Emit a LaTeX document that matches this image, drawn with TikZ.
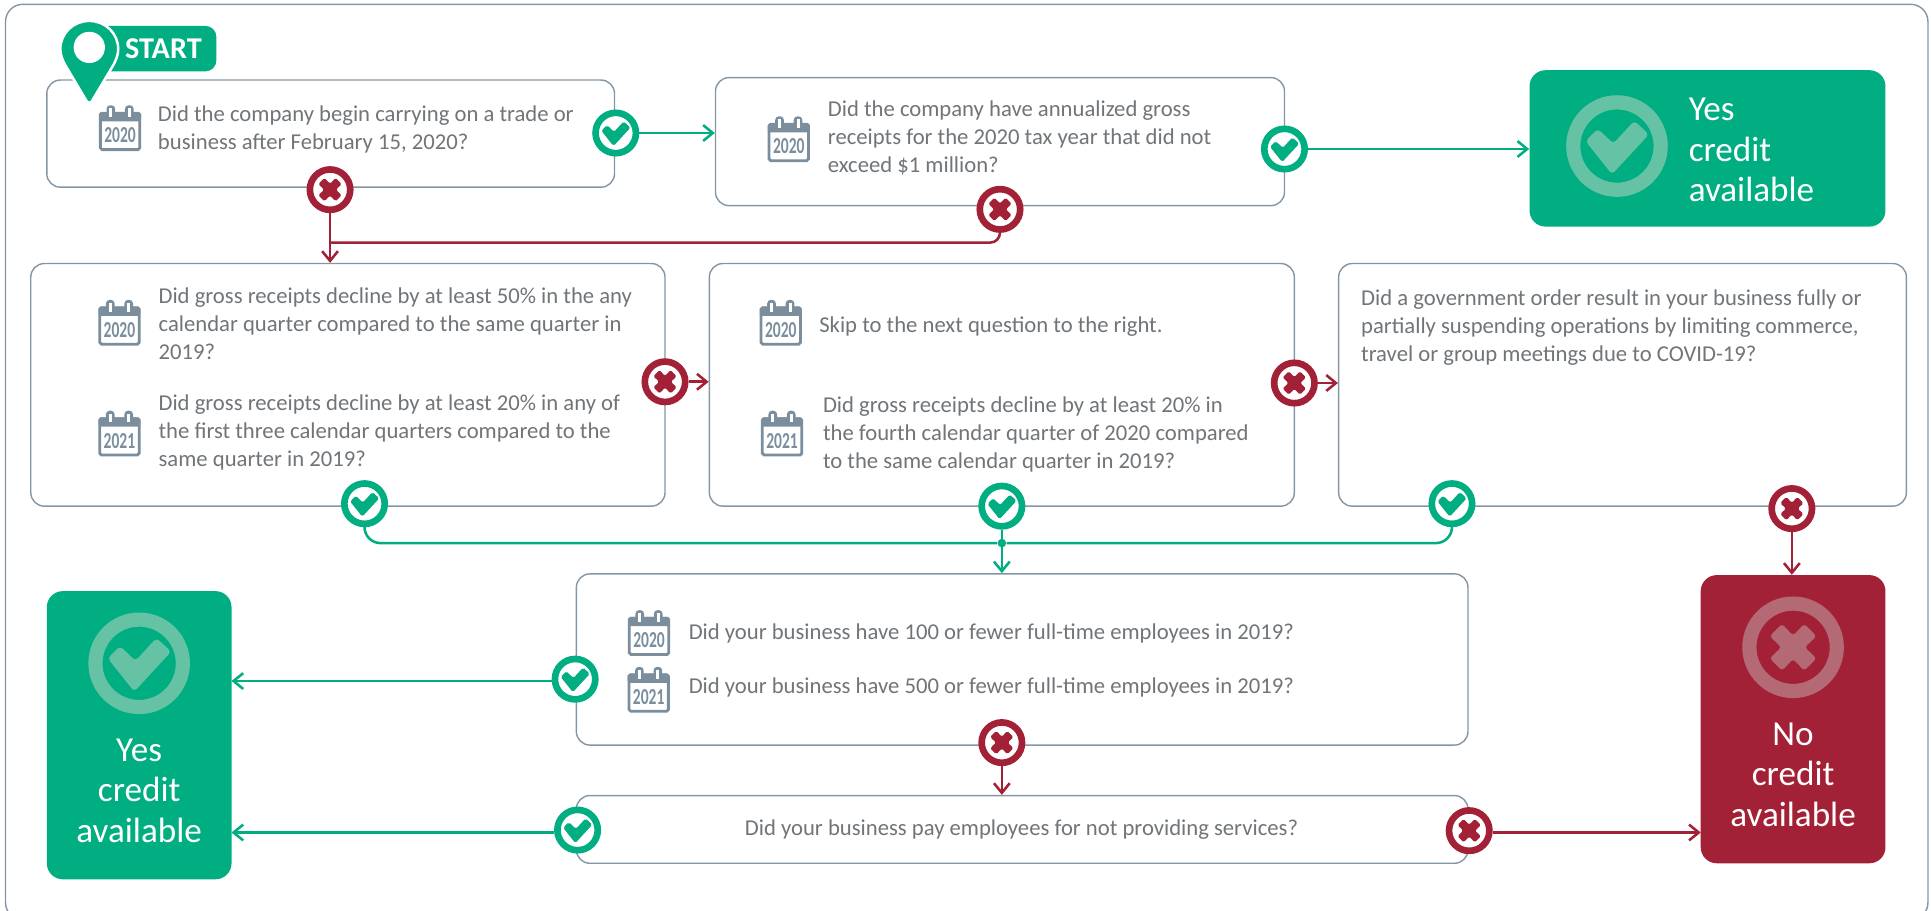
\documentclass[tikz,border=0pt]{standalone}
\usepackage{fontspec}
\usepackage{graphicx}
\setmainfont{Carlito}
\usetikzlibrary{arrows.meta}

\newcommand{\px}{0.02463cm}
\definecolor{okgreen}{HTML}{00AE82}
\definecolor{nored}{HTML}{A32136}
\definecolor{okring}{HTML}{66C2A5}
\definecolor{noring}{HTML}{B36A75}
\definecolor{edgegray}{HTML}{8496A5}
\definecolor{calgray}{HTML}{7A8E9D}
\definecolor{textgray}{HTML}{707579}

\newcommand{\tickshape}[2]{\fill[shift={(path picture bounding box.center)}, x=#1*\px, y=-#1*\px, #2, rounded corners=#1*3*\px] (-25.5,-4) -- (-15.5,-14) -- (-3,-2) -- (14,-20.5) -- (26,-9.5) -- (-4,23) -- cycle;}
\newcommand{\crossshape}[2]{\fill[shift={(path picture bounding box.center)}, x=#1*\px, y=-#1*\px, #2, rounded corners=#1*2.5*\px] (0,-9.5) -- (9,-19) -- (19,-9) -- (9.5,0) -- (19,9) -- (9,19) -- (0,9.5) -- (-9,19) -- (-19,9) -- (-9.5,0) -- (-19,-9) -- (-9,-19) -- cycle;}

\tikzset{
    qbox/.style={draw=edgegray, line width=.8pt, rounded corners=11*\px, fill=white, inner sep=0pt},
    qtext/.style={text=textgray, anchor=west, align=left, inner sep=0pt, font=\fontsize{12.9}{15.9}\selectfont},
    result/.style={rounded corners=13*\px, inner sep=0pt},
    restext/.style={text=white, inner sep=0pt, font=\fontsize{20}{23}\selectfont},
    yesmark/.style={circle, draw=okgreen, fill=white, line width=5.4*\px, minimum size=32.8*\px, inner sep=0pt, path picture={\tickshape{.46}{okgreen}}},
    nomark/.style={circle, draw=nored, fill=white, line width=5.4*\px, minimum size=32.8*\px, inner sep=0pt, path picture={\crossshape{.5}{nored}}},
    bigyes/.style={circle, draw=okring, line width=11.5*\px, minimum size=71*\px, inner sep=0pt, path picture={\tickshape{1}{okring}}},
    bigno/.style={circle, draw=noring, line width=11.5*\px, minimum size=71*\px, inner sep=0pt, path picture={\crossshape{1}{noring}}},
    yesline/.style={->, draw=okgreen, line width=1.45pt},
    noline/.style={->, draw=nored, line width=1.45pt},
    pics/calicon/.style={code={
        \draw[calgray, fill=white, line width=1.6pt, rounded corners=1pt] (-16,-12) rectangle (16,17.5);
        \fill[calgray, rounded corners=1pt] (-17,-13) rectangle (17,-5.5);
        \fill[calgray, rounded corners=2pt] (-11,-18.5) rectangle (-4,-7);
        \fill[calgray, rounded corners=2pt] (4,-18.5) rectangle (11,-7);
        \fill[white] (-8.7,-16) rectangle (-6.3,-9);
        \fill[white] (6.3,-16) rectangle (8.7,-9);
        \node[text=calgray, inner sep=0pt, font=\fontsize{13}{13}\selectfont\bfseries] (yr) at (0,6) {\scalebox{.68}[1]{#1}};
    }}
}

\begin{document}
\begin{tikzpicture}[x=\px, y=-\px, >={Straight Barb[length=5.5pt, width=9pt]}]
    \useasboundingbox (0,0) rectangle (1568,739.7);
    \draw[edgegray, line width=.8pt, rounded corners=14*\px] (4.5,3.5) rectangle (1565.5,747);

    % question boxes
    \node[qbox, minimum width=461*\px, minimum height=87*\px] (boxA) at (268.5,108.5) {};
    \node[qbox, minimum width=462*\px, minimum height=104*\px] (boxB) at (812,115) {};
    \node[qbox, minimum width=515*\px, minimum height=197*\px] (boxC) at (282.5,312.5) {};
    \node[qbox, minimum width=475*\px, minimum height=197*\px] (boxD) at (813.5,312.5) {};
    \node[qbox, minimum width=461*\px, minimum height=197*\px] (boxE) at (1317.5,312.5) {};
    \node[qbox, minimum width=724*\px, minimum height=139*\px] (boxF) at (830,535.5) {};
    \node[qbox, minimum width=724*\px, minimum height=55*\px] (boxG) at (830,673.5) {};

    % result boxes
    \node[result, fill=okgreen, minimum width=289*\px, minimum height=127*\px] (yesA) at (1386.5,120.5) {};
    \node[result, fill=okgreen, minimum width=150*\px, minimum height=234*\px] (yesB) at (113,597) {};
    \node[result, fill=nored, minimum width=150*\px, minimum height=234*\px] (noA) at (1456,584) {};
    \node[bigyes] (ringA) at (1313,118.6) {};
    \node[bigyes] (ringB) at (113,538.6) {};
    \node[bigno] (ringC) at (1456,525.6) {};
    \node[restext, anchor=west, align=left] (yesAtxt) at (1371,122) {Yes\\credit\\available};
    \node[restext, align=center] (yesBtxt) at (113,642) {Yes\\credit\\available};
    \node[restext, align=center] (noAtxt) at (1456,629) {No\\credit\\available};

    % start flag
    \node[fill=okgreen, text=white, rounded corners=9*\px, anchor=east, inner sep=0pt, minimum height=37*\px, minimum width=96*\px, font=\fontsize{17.2}{17.2}\selectfont\bfseries] (flag) at (176,39.5) {\hspace{10\dimexpr\px\relax}START};
    \draw[fill=okgreen, draw=white, line width=1.4pt] (49,40) .. controls (49,27) and (59.5,17) .. (72.5,17) .. controls (85.5,17) and (96,27) .. (96,40) .. controls (96,44) and (94.5,48) .. (92.5,52) -- (75,81.5) .. controls (73.8,84) and (71.2,84) .. (70,81.5) -- (52.5,52) .. controls (50.5,48) and (49,44) .. (49,40) -- cycle;
    \fill[white] (72.5,38.5) circle[radius=12.7];

    % texts
    \pic (calA) at (97.5,104) {calicon=2020};
    \node[qtext] (txtA) at (128,105.5) {Did the company begin carrying on a trade or\\business after February 15, 2020?};
    \pic (calB) at (640.5,113) {calicon=2020};
    \node[qtext] (txtB) at (672,112) {Did the company have annualized gross\\receipts for the 2020 tax year that did not\\exceed \$1 million?};
    \pic (calC) at (97,262) {calicon=2020};
    \node[qtext] (txtC) at (128.5,263) {Did gross receipts decline by at least 50\% in the any\\calendar quarter compared to the same quarter in\\2019?};
    \pic (calD) at (97,352) {calicon=2021};
    \node[qtext] (txtD) at (128.5,351) {Did gross receipts decline by at least 20\% in any of\\the first three calendar quarters compared to the\\same quarter in 2019?};
    \pic (calE) at (634,262) {calicon=2020};
    \node[qtext] (txtE) at (665,265.5) {Skip to the next question to the right.};
    \pic (calF) at (635,352) {calicon=2021};
    \node[qtext] (txtF) at (668,352.5) {Did gross receipts decline by at least 20\% in\\the fourth calendar quarter of 2020 compared\\to the same calendar quarter in 2019?};
    \node[qtext] (txtG) at (1105,266) {Did a government order result in your business fully or\\partially suspending operations by limiting commerce,\\travel or group meetings due to COVID-19?};
    \pic (calH) at (527,514) {calicon=2020};
    \node[qtext] (txtH) at (559,514.5) {Did your business have 100 or fewer full-time employees in 2019?};
    \pic (calI) at (526.7,560) {calicon=2021};
    \node[qtext] (txtI) at (559,558.5) {Did your business have 500 or fewer full-time employees in 2019?};
    \node[qtext, anchor=center] (txtJ) at (829.5,673.5) {Did your business pay employees for not providing services?};

    % yes and no marks
    \node[yesmark] (chkA) at (500,108) {};
    \node[yesmark] (chkB) at (1043,121) {};
    \node[yesmark] (chkC) at (296,409) {};
    \node[yesmark] (chkD) at (813.5,411) {};
    \node[yesmark] (chkE) at (1179,409) {};
    \node[yesmark] (chkF) at (467,551.5) {};
    \node[yesmark] (chkG) at (469,674) {};
    \node[nomark] (crsA) at (268,154) {};
    \node[nomark] (crsB) at (812,170) {};
    \node[nomark] (crsC) at (540,310) {};
    \node[nomark] (crsD) at (1051,311) {};
    \node[nomark] (crsE) at (1455,413) {};
    \node[nomark] (crsF) at (813.5,603) {};
    \node[nomark] (crsG) at (1193,674.5) {};

    % join points
    \node[circle, fill=okgreen, inner sep=0pt, minimum size=7*\px] (joinF) at (813.5,441) {};
    \coordinate (tapC) at (268,197);
    \coordinate (inYesB) at (188,553);
    \coordinate (inYesC) at (188,676);
    \coordinate (inNoA) at (1381,676);

    \draw[yesline] (chkA.east) -- (chkA.east -| boxB.west);
    \draw[yesline] (chkB.east) -- (chkB.east -| yesA.west);
    \draw[noline] (crsA.south) -- (crsA.south |- boxC.north);
    \draw[noline, -, rounded corners=8*\px] (crsB.south) |- (tapC);
    \draw[noline] (crsC.east) -- (crsC.east -| boxD.west);
    \draw[noline] (crsD.east) -- (crsD.east -| boxE.west);
    \draw[yesline, -, rounded corners=13*\px] (chkC.south) |- (joinF);
    \draw[yesline, -, rounded corners=13*\px] (chkE.south) |- (joinF);
    \draw[yesline] (chkD.south) -- (chkD.south |- boxF.north);
    \draw[noline] (crsE.south) -- (crsE.south |- noA.north);
    \draw[yesline] (chkF.west |- inYesB) -- (inYesB);
    \draw[yesline] (chkG.west |- inYesC) -- (inYesC);
    \draw[noline] (crsF.south) -- (crsF.south |- boxG.north);
    \draw[noline] (crsG.east |- inNoA) -- (inNoA);
\end{tikzpicture}
\end{document}
